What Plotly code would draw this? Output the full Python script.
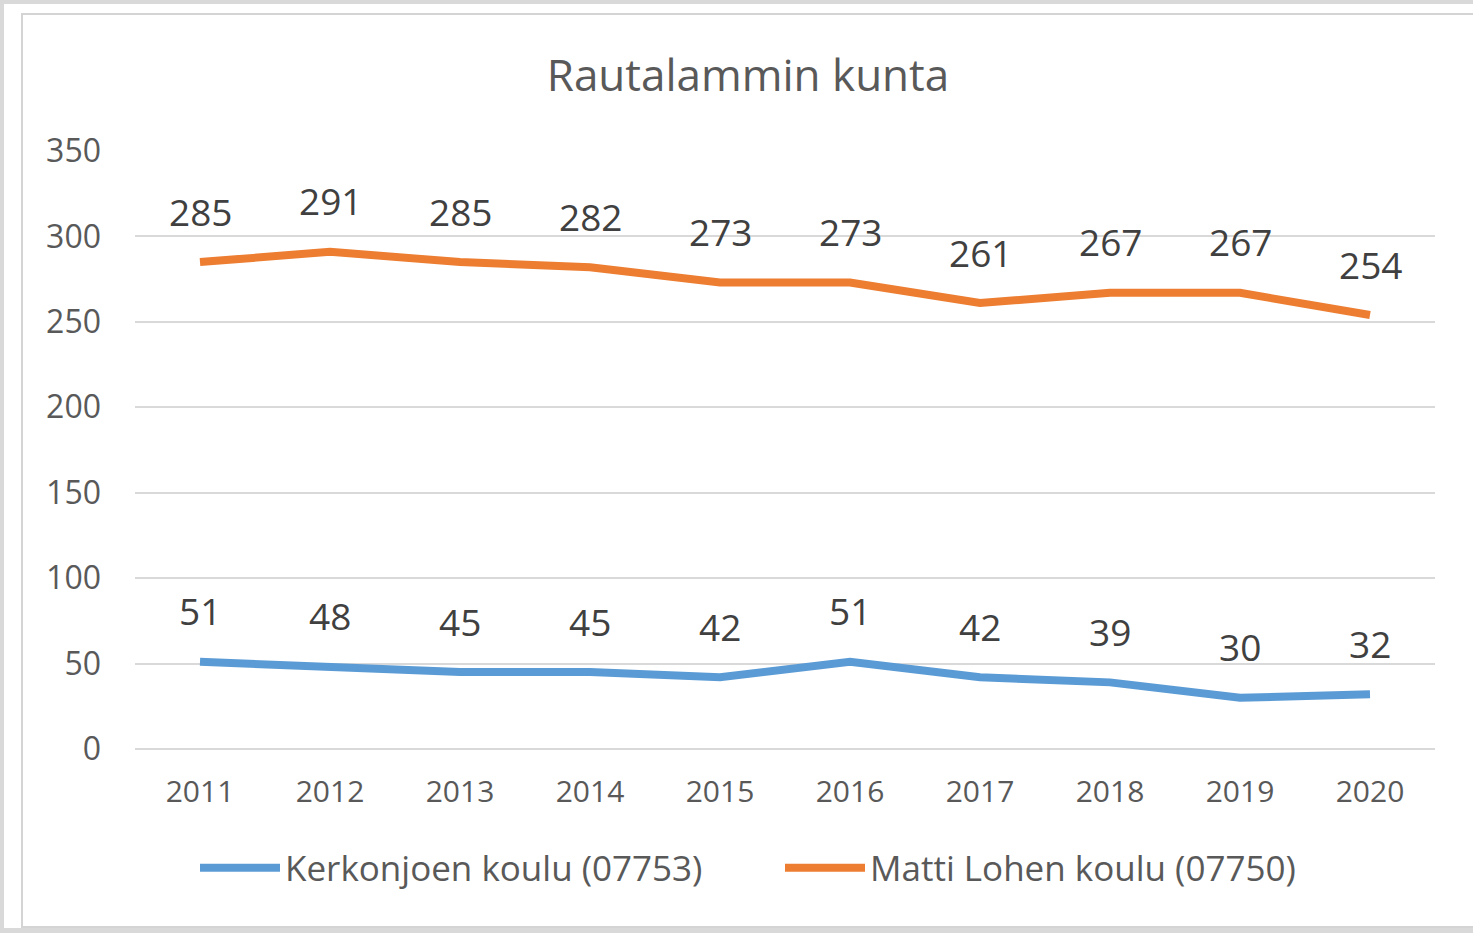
import plotly.graph_objects as go

years = ["2011", "2012", "2013", "2014", "2015", "2016", "2017", "2018", "2019", "2020"]
kerkonjoki = [51, 48, 45, 45, 42, 51, 42, 39, 30, 32]
matti_lohi = [285, 291, 285, 282, 273, 273, 261, 267, 267, 254]
series_names = ["Kerkonjoen koulu (07753)", "Matti Lohen koulu (07750)"]
series_colors = ["#5b9bd5", "#ed7d31"]
y_ticks = [0, 50, 100, 150, 200, 250, 300, 350]

W, H = 1473, 933
L, R, T, B = 135, 1435, 151, 749
FONT = "Open Sans"

def px(x):
    return (x - L) / (R - L)

def py(y):
    return (B - y) / (B - T)

fig = go.Figure()
for name, vals, col in [(series_names[0], kerkonjoki, series_colors[0]),
                        (series_names[1], matti_lohi, series_colors[1])]:
    fig.add_trace(go.Scatter(x=years, y=vals, name=name, mode="lines",
                             line=dict(color=col, width=8), hoverinfo="skip"))
    for i, yv in enumerate(vals):
        fig.add_annotation(x=i, y=yv, text=str(yv), showarrow=False, xref="x", yref="y",
                           yshift=51, font=dict(family=FONT, size=37, color="#404040"))

shapes = [
    dict(type="rect", xref="paper", yref="paper", x0=px(-5), x1=px(W + 5), y0=py(H + 5), y1=py(-5),
         fillcolor="#d9d9d9", line=dict(width=0), layer="below"),
    dict(type="rect", xref="paper", yref="paper", x0=px(4), x1=px(W + 5), y0=py(928), y1=py(4),
         fillcolor="#ffffff", line=dict(width=0), layer="below"),
    dict(type="rect", xref="paper", yref="paper", x0=px(22), x1=px(W + 10), y0=py(927), y1=py(14),
         fillcolor="rgba(0,0,0,0)", line=dict(width=2, color="#d4d4d4"), layer="below"),
]

fig.update_layout(
    width=W, height=H,
    margin=dict(l=L, r=W - R, t=T, b=H - B, pad=0),
    paper_bgcolor="#ffffff", plot_bgcolor="rgba(0,0,0,0)",
    shapes=shapes,
    title=dict(text="Rautalammin kunta", x=748 / W, xanchor="center", y=1 - 76 / H, yanchor="middle",
               font=dict(family=FONT, size=44, color="#595959")),
    xaxis=dict(type="category", showgrid=False, showline=False, zeroline=False, ticks="",
               tickfont=dict(family=FONT, size=30, color="#595959"), ticklabelstandoff=22,
               range=[-0.5, 9.5]),
    yaxis=dict(range=[0, 350], tickvals=y_ticks, showgrid=True, gridcolor="#d9d9d9", gridwidth=2,
               zeroline=True, zerolinecolor="#d9d9d9", zerolinewidth=2, showline=False, ticks="",
               tickfont=dict(family=FONT, size=32, color="#595959"), ticklabelstandoff=33),
    showlegend=True,
    legend=dict(orientation="h", x=px(195), xanchor="left",
                y=py(868), yanchor="middle",
                font=dict(family=FONT, size=35, color="#595959"), itemwidth=80,
                entrywidth=490, entrywidthmode="pixels",
                bgcolor="rgba(0,0,0,0)"),
)

fig.write_html("out.html", config={"displayModeBar": False},
               post_script="document.body.style.margin='0';document.body.style.overflow='hidden';")
